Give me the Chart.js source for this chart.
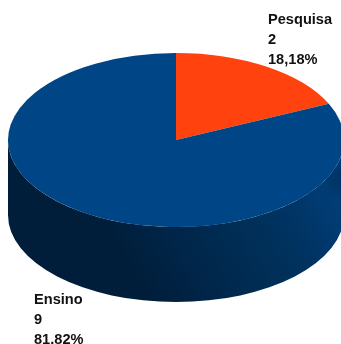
<!DOCTYPE html>
<html>
<head>
<meta charset="utf-8">
<style>
  html, body { margin: 0; padding: 0; background: #fff; overflow: hidden; }
  #wrap { position: relative; width: 341px; height: 344px; }
</style>
<script src="https://cdn.jsdelivr.net/npm/chart.js@4/dist/chart.umd.min.js"></script>
</head>
<body>
<div id="wrap"><canvas id="pie" width="341" height="344"></canvas></div>
<script>
const categories = ["Pesquisa", "Ensino"];
const counts = [2, 9];
const percentLabels = ["18,18%", "81.82%"];
const sliceColors = ["#ff420e", "#004586"];

// label anchor for each slice (left edge, first baseline)
const labelX = [268, 34];
const labelY = [24, 304];

const SQUASH = 87 / 168; // tilt of the disc
const DEPTH = 75;        // height of the side wall

// Lays the disc over on its side and paints the wall underneath it
const tiltPlugin = {
  id: "tilt",
  beforeDatasetsDraw(chart) {
    const ctx = chart.ctx;
    const arc = chart.getDatasetMeta(0).data[0];
    const { x, y, outerRadius: r } = arc;
    const ry = r * SQUASH;

    ctx.save();
    ctx.beginPath();
    ctx.ellipse(x, y, r, ry, 0, Math.PI, 0, true);
    ctx.lineTo(x + r, y + DEPTH);
    ctx.ellipse(x, y + DEPTH, r, ry, 0, 0, Math.PI, false);
    ctx.closePath();
    ctx.clip();

    // light falls in from the upper right
    const base = ctx.createLinearGradient(x - 26, y + 160, x + 164, y + 40);
    base.addColorStop(0, "#001e3a");
    base.addColorStop(0.25, "#00264a");
    base.addColorStop(0.57, "#003059");
    base.addColorStop(0.72, "#003464");
    base.addColorStop(0.92, "#003d75");
    base.addColorStop(1, "#003f7a");
    ctx.fillStyle = base;
    ctx.fillRect(x - r, y, r * 2 + 10, ry + DEPTH + 5);

    // falloff round the far right edge, top of the wall only
    const edge = ctx.createRadialGradient(x + r, y + 38, 0, x + r, y + 38, 24);
    edge.addColorStop(0, "rgba(0,20,45,0.35)");
    edge.addColorStop(1, "rgba(0,20,45,0)");
    ctx.fillStyle = edge;
    ctx.fillRect(x + r - 24, y, 30, ry + DEPTH + 5);
    ctx.restore();

    ctx.save();
    ctx.translate(x, y);
    ctx.scale(1, SQUASH);
    ctx.translate(-x, -y);
  },
  afterDatasetsDraw(chart) {
    chart.ctx.restore();

    // three stacked lines of text next to each slice
    const ctx = chart.ctx;
    ctx.save();
    ctx.fillStyle = "#111";
    ctx.font = "bold 14.6px 'Liberation Sans', Arial, sans-serif";
    ctx.textBaseline = "alphabetic";
    categories.forEach((name, i) => {
      ctx.fillText(name, labelX[i], labelY[i]);
      ctx.fillText(String(counts[i]), labelX[i], labelY[i] + 20);
      ctx.fillText(percentLabels[i], labelX[i], labelY[i] + 40);
    });
    ctx.restore();
  },
};

new Chart(document.getElementById("pie"), {
  type: "pie",
  data: {
    labels: categories,
    datasets: [
      {
        data: counts,
        backgroundColor: sliceColors,
        borderWidth: 0,
        radius: 168,
      },
    ],
  },
  options: {
    responsive: false,
    animation: false,
    layout: { padding: { left: 11, right: 0, top: 0, bottom: 64 } },
    plugins: {
      legend: { display: false },
      tooltip: { enabled: false },
    },
  },
  plugins: [tiltPlugin],
});
</script>
</body>
</html>
